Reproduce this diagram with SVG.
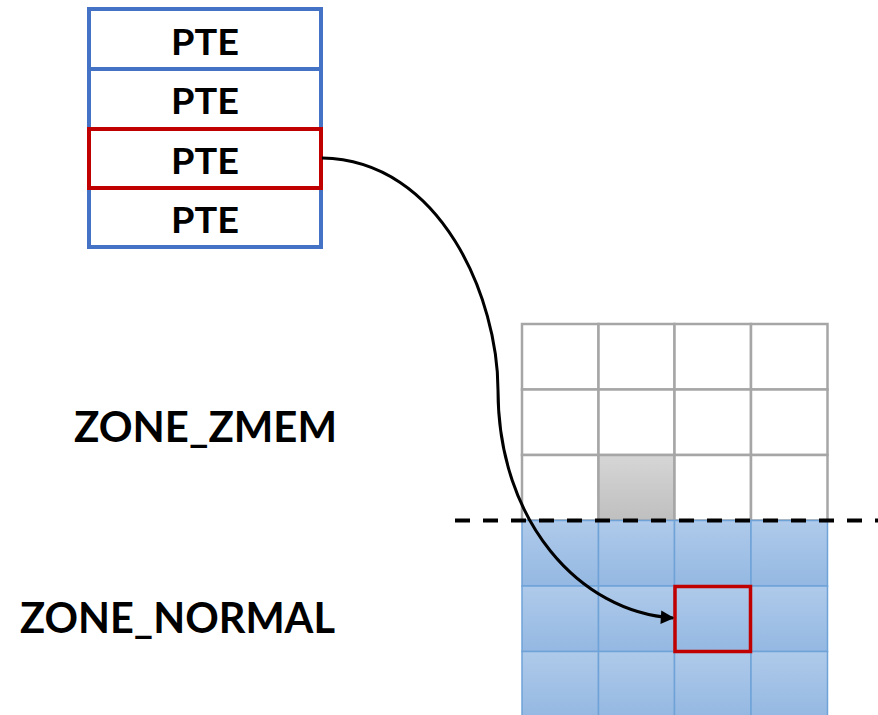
<svg xmlns="http://www.w3.org/2000/svg" width="878" height="715" viewBox="0 0 878 715">
  <defs>
    <linearGradient id="blueCell" x1="0" y1="0" x2="0" y2="1">
      <stop offset="0" stop-color="#afcaea"/>
      <stop offset="1" stop-color="#94b8e2"/>
    </linearGradient>
    <linearGradient id="grayCell" x1="0" y1="0" x2="0" y2="1">
      <stop offset="0" stop-color="#d6d6d6"/>
      <stop offset="1" stop-color="#bfbfbf"/>
    </linearGradient>
    <marker id="arrowHead" viewBox="0 0 10 10" refX="9" refY="5" markerWidth="5" markerHeight="4.5" orient="auto" markerUnits="strokeWidth">
      <path d="M0,0 L10,5 L0,10 z" fill="#000"/>
    </marker>
  </defs>
  <style>
    .pte { fill: #fff; stroke: #4472c4; stroke-width: 4; }
    .sel { fill: none; stroke: #c00000; stroke-width: 4; }
    .lbl { font-family: Lato, "Liberation Sans", Arial, sans-serif; font-weight: bold; fill: #000; }
    .pteText { font-size: 37px; text-anchor: middle; }
    .zoneText { font-size: 42px; }
    .free { fill: #fff; stroke: #a6a6a6; stroke-width: 2.5; }
    .used { fill: url(#grayCell); stroke: #a6a6a6; stroke-width: 2.5; }
    .normal { fill: url(#blueCell); stroke: #6fa3d8; stroke-width: 1.5; }
    .conn { fill: none; stroke: #000; stroke-width: 3; }
  </style>

  <rect width="878" height="715" fill="#fff"/>

  <!-- page table entries -->
  <g id="pte-table">
    <rect class="pte" x="89" y="9" width="232" height="60"/>
    <rect class="pte" x="89" y="69" width="232" height="60"/>
    <rect class="pte" x="89" y="129" width="232" height="59"/>
    <rect class="pte" x="89" y="188" width="232" height="59"/>
    <text class="lbl pteText" x="205" y="55" textLength="68" lengthAdjust="spacingAndGlyphs">PTE</text>
    <text class="lbl pteText" x="205" y="114" textLength="68" lengthAdjust="spacingAndGlyphs">PTE</text>
    <text class="lbl pteText" x="205" y="174" textLength="68" lengthAdjust="spacingAndGlyphs">PTE</text>
    <text class="lbl pteText" x="205" y="233" textLength="68" lengthAdjust="spacingAndGlyphs">PTE</text>
  </g>
  <g id="pte-selected">
    <rect class="sel" x="89" y="129" width="232" height="59"/>
  </g>

  <!-- zone labels -->
  <g id="label-zmem">
    <text class="lbl zoneText" x="74" y="442" textLength="263" lengthAdjust="spacingAndGlyphs">ZONE_ZMEM</text>
  </g>
  <g id="label-normal">
    <text class="lbl zoneText" x="20" y="633" textLength="315" lengthAdjust="spacingAndGlyphs">ZONE_NORMAL</text>
  </g>

  <!-- ZONE_ZMEM pages -->
  <g id="zone-zmem">
    <rect class="free" x="522" y="324" width="76.5" height="65.5"/>
    <rect class="free" x="598.5" y="324" width="76" height="65.5"/>
    <rect class="free" x="674.5" y="324" width="76.5" height="65.5"/>
    <rect class="free" x="751" y="324" width="76.5" height="65.5"/>
    <rect class="free" x="522" y="389.5" width="76.5" height="65.5"/>
    <rect class="free" x="598.5" y="389.5" width="76" height="65.5"/>
    <rect class="free" x="674.5" y="389.5" width="76.5" height="65.5"/>
    <rect class="free" x="751" y="389.5" width="76.5" height="65.5"/>
    <rect class="free" x="522" y="455" width="76.5" height="65.5"/>
    <rect class="used" x="598.5" y="455" width="76" height="65.5"/>
    <rect class="free" x="674.5" y="455" width="76.5" height="65.5"/>
    <rect class="free" x="751" y="455" width="76.5" height="65.5"/>
  </g>

  <!-- ZONE_NORMAL pages -->
  <g id="zone-normal">
    <rect class="normal" x="522" y="520.5" width="76.5" height="65.5"/>
    <rect class="normal" x="598.5" y="520.5" width="76" height="65.5"/>
    <rect class="normal" x="674.5" y="520.5" width="76.5" height="65.5"/>
    <rect class="normal" x="751" y="520.5" width="76.5" height="65.5"/>
    <rect class="normal" x="522" y="586" width="76.5" height="65.5"/>
    <rect class="normal" x="598.5" y="586" width="76" height="65.5"/>
    <rect class="normal" x="674.5" y="586" width="76.5" height="65.5"/>
    <rect class="normal" x="751" y="586" width="76.5" height="65.5"/>
    <rect class="normal" x="522" y="651.5" width="76.5" height="66"/>
    <rect class="normal" x="598.5" y="651.5" width="76" height="66"/>
    <rect class="normal" x="674.5" y="651.5" width="76.5" height="66"/>
    <rect class="normal" x="751" y="651.5" width="76.5" height="66"/>
  </g>
  <g id="page-target">
    <rect x="675" y="586.5" width="75.5" height="65" fill="none" stroke="#c00000" stroke-width="3.5"/>
  </g>

  <!-- zone boundary -->
  <g id="zone-boundary">
    <line x1="455" y1="520.5" x2="878" y2="520.5" stroke="#000" stroke-width="4" stroke-dasharray="15 13"/>
  </g>

  <!-- mapping from PTE to page -->
  <g id="connectors">
    <path class="conn" d="M322,158 C442,160 498,300 498,390 C498,522 580,612 673,618" marker-end="url(#arrowHead)"/>
  </g>
</svg>
